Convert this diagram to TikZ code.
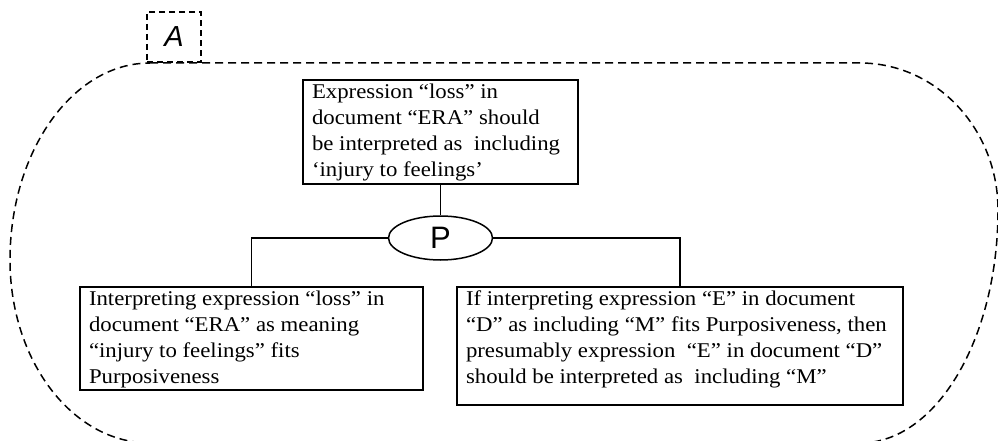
\documentclass[tikz,border=0pt]{standalone}
\usepackage{fontspec}
\setmainfont{Liberation Serif}[FakeStretch=1.085]
\newfontfamily\labelsans{Liberation Sans}
\usetikzlibrary{shapes.geometric}
\newcommand{\boxtext}[3]{\parbox[c][#2][t]{#1}{\vspace*{4pt}\raggedright\setlength{\leftskip}{9pt}\fontsize{21pt}{26pt}\selectfont #3}}
\begin{document}
\begin{tikzpicture}[x=1pt,y=1pt,
  txtbox/.style={draw, line width=1.5pt, inner sep=0pt},
  propell/.style={ellipse, draw, line width=1.5pt, minimum width=104pt, minimum height=44pt, inner sep=0pt, font=\labelsans\fontsize{31pt}{31pt}\selectfont},
  link/.style={line width=1.5pt},
  outline/.style={line width=1.5pt, dash pattern=on 8pt off 5pt},
  tagbox/.style={draw, line width=1.1pt, dash pattern=on 6pt off 4pt, minimum width=54pt, minimum height=50pt, inner sep=0pt, font=\labelsans\itshape\fontsize{29pt}{29pt}\selectfont}]
\useasboundingbox (0,0) rectangle (998,440);
\draw[outline] (150,377) -- (860,377)
  arc[start angle=90,end angle=0,x radius=138pt,y radius=147pt]
  arc[start angle=0,end angle=-90,x radius=138pt,y radius=233pt]
  -- (150,-3)
  arc[start angle=270,end angle=180,x radius=140pt,y radius=183pt]
  arc[start angle=180,end angle=90,x radius=140pt,y radius=197pt] -- cycle;
\node[tagbox] (A) at (174,403) {A};
\node[txtbox] (T) at (440.5,308) {\boxtext{275pt}{104pt}{Expression “loss” in\\document “ERA” should\\be interpreted as\ \ including\\‘injury to feelings’}};
\node[propell] (P) at (440.5,202) {P};
\node[txtbox] (L) at (251.5,101.5) {\boxtext{343pt}{103pt}{Interpreting expression “loss” in\\document “ERA” as meaning\\“injury to feelings” fits\\Purposiveness}};
\node[txtbox] (R) at (680,94) {\boxtext{446pt}{118pt}{If interpreting expression “E” in document\\“D” as including “M” fits Purposiveness, then\\presumably expression\ \ “E” in document “D”\\should be interpreted as\ \ including “M”}};
\draw[link] (T) -- (P);
\draw[link] (P.west) -| (L.north);
\draw[link] (P.east) -| (R.north);
\end{tikzpicture}
\end{document}
